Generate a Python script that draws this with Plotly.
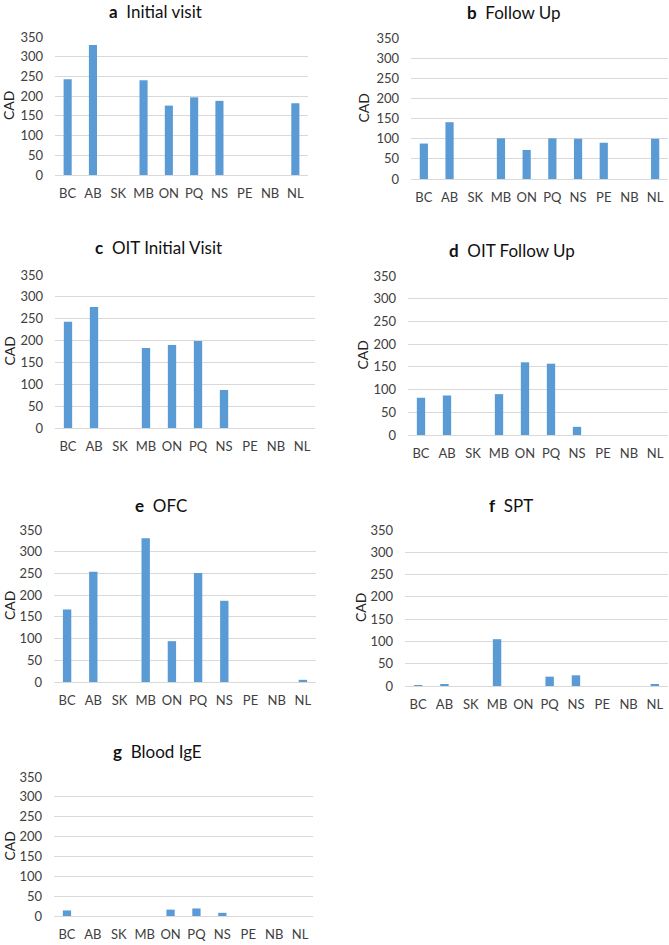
import plotly.graph_objects as go
from plotly.subplots import make_subplots

W, H = 669, 945

provinces = ['BC', 'AB', 'SK', 'MB', 'ON', 'PQ', 'NS', 'PE', 'NB', 'NL']

initial_visit = [243, 330, 0, 240, 176, 197, 188, 0, 0, 182]
follow_up = [88, 141, 0, 101, 72, 101, 100, 90, 0, 100]
oit_initial_visit = [243, 277, 0, 183, 190, 199, 87, 0, 0, 0]
oit_follow_up = [82, 87, 0, 90, 160, 157, 18, 0, 0, 0]
ofc = [167, 254, 0, 331, 94, 251, 187, 0, 0, 5]
spt = [1, 3, 0, 105, 0, 21, 24, 0, 0, 3]
blood_ige = [14, 0, 0, 0, 16, 19, 8, 0, 0, 0]

panel_letters = ['a', 'b', 'c', 'd', 'e', 'f', 'g']
panel_names = ['Initial visit', 'Follow Up', 'OIT Initial Visit', 'OIT Follow Up',
               'OFC', 'SPT', 'Blood IgE']
y_ticks = [0, 50, 100, 150, 200, 250, 300, 350]

series = [initial_visit, follow_up, oit_initial_visit, oit_follow_up, ofc, spt, blood_ige]

# pixel boxes of each plot area: x0, x1, y_top(350), y_bottom(0)
boxes = [(55, 308, 37, 175),
         (411, 668, 38, 179),
         (55, 315, 275, 428),
         (408, 668, 276, 435),
         (54, 316, 530, 682),
         (405, 668, 530, 686),
         (54, 313, 777, 916)]
# title centre x / y, CAD label x
title_pos = [(155, 12), (514, 13), (158, 247), (512, 250), (161, 505), (511, 505), (157, 751)]
cad_x = [9, 363, 9, 362, 9, 360, 9]

FONT = 'Lato'
BAR = '#5B9BD5'
GRID = '#D9D9D9'

fig = make_subplots(rows=4, cols=2,
                    specs=[[{}, {}], [{}, {}], [{}, {}], [{}, None]])

for i, vals in enumerate(series):
    r, c = i // 2 + 1, i % 2 + 1
    fig.add_trace(go.Bar(x=provinces, y=vals, marker=dict(color=BAR, line=dict(width=0)),
                         showlegend=False), row=r, col=c)

for i, (x0, x1, yt, yb) in enumerate(boxes):
    n = '' if i == 0 else str(i + 1)
    fig.layout['xaxis' + n].update(domain=[x0 / W, x1 / W], showgrid=False,
                                   showline=False, zeroline=False, automargin=False,
                                   tickfont=dict(family=FONT, size=13, color='#404040'),
                                   ticklabelstandoff=9, ticks='')
    fig.layout['yaxis' + n].update(domain=[1 - yb / H, 1 - yt / H], range=[0, 350],
                                   tickvals=y_ticks, showgrid=True, gridcolor=GRID,
                                   gridwidth=1, zeroline=True, zerolinecolor=GRID,
                                   zerolinewidth=1, showline=False, automargin=False,
                                   tickfont=dict(family=FONT, size=13, color='#404040'),
                                   ticklabelstandoff=11, ticks='')
    tx, ty = title_pos[i]
    fig.add_annotation(x=tx / W, y=1 - ty / H, xref='paper', yref='paper',
                       text=f'<b>{panel_letters[i]}</b>  {panel_names[i]}',
                       showarrow=False, xanchor='center', yanchor='middle',
                       font=dict(family=FONT, size=17, color='#111111'))
    fig.add_annotation(x=cad_x[i] / W, y=1 - (yt + yb) / 2 / H, xref='paper', yref='paper',
                       text='CAD', textangle=-90, showarrow=False,
                       xanchor='center', yanchor='middle',
                       font=dict(family=FONT, size=14, color='#222222'))

fig.update_layout(width=W, height=H, margin=dict(l=0, r=0, t=0, b=0, autoexpand=False),
                  bargap=0.68, plot_bgcolor='white', paper_bgcolor='white')

# page body has an 8px margin by default, drop it so the figure fills the window
fig.write_html('out.html', config={'displayModeBar': False},
               post_script="document.body.style.margin='0';")
